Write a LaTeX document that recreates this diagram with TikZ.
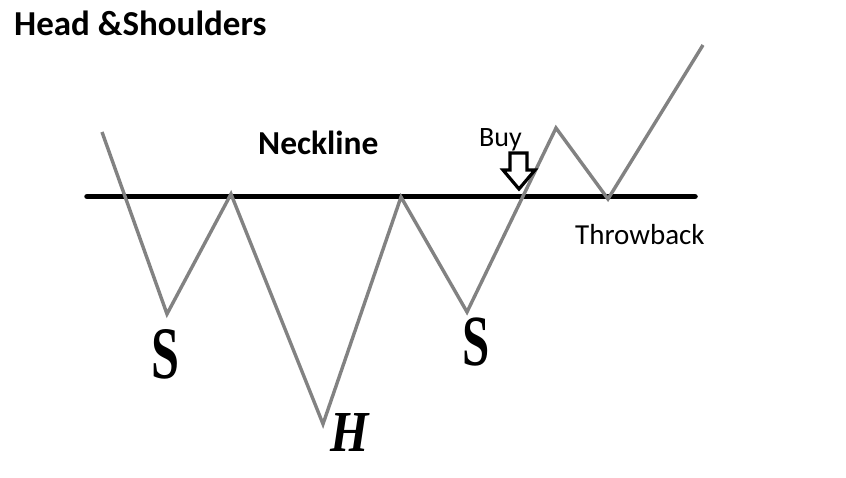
\documentclass[tikz,border=0pt]{standalone}
\usepackage{fontspec}
\setmainfont{Carlito}
\newfontfamily\handfont{Liberation Serif}
\definecolor{zig}{RGB}{130,130,130}
\begin{document}
\begin{tikzpicture}[x=1pt,y=-1pt,
  zigline/.style={draw=zig,line width=3.4pt,line join=miter},
  neck/.style={draw=black,line width=5.5pt,line cap=round},
  lbl/.style={inner sep=0pt,anchor=base west,text=black},
  hand/.style={inner sep=0pt,anchor=center,text=black}]
\useasboundingbox[fill=white] (0,0) rectangle (846,477);
% neckline
\coordinate (nl) at (87,196.5);
\coordinate (nr) at (695,196.5);
\draw[neck] (nl) -- (nr);
% price path
\coordinate (p1) at (102,132);
\coordinate (p2) at (167,314);
\coordinate (p3) at (231,194);
\coordinate (p4) at (323,424);
\coordinate (p5) at (401,197);
\coordinate (p6) at (467,312);
\coordinate (p7) at (556,128);
\coordinate (p8) at (608,199);
\coordinate (p9) at (703,45);
\draw[zigline] (p1) -- (p2) -- (p3) -- (p4) -- (p5) -- (p6) -- (p7) -- (p8) -- (p9);
% buy arrow
\coordinate (a1) at (510,153);
\coordinate (a2) at (527,153);
\coordinate (a3) at (527,170);
\coordinate (a4) at (535,170);
\coordinate (a5) at (519,189);
\coordinate (a6) at (503,170);
\coordinate (a7) at (510,170);
\draw[line width=3.2pt,fill=white,line join=miter] (a1) -- (a2) -- (a3) -- (a4) -- (a5) -- (a6) -- (a7) -- cycle;
% labels
\node[lbl,font=\fontsize{35}{40}\selectfont\bfseries] (title) at (14,35) {Head \&Shoulders};
\node[lbl,font=\fontsize{33.5}{40}\selectfont\bfseries] (neckline) at (258,154) {Neckline};
\node[lbl,font=\fontsize{28}{32}\selectfont] (buy) at (479,146) {Buy};
\node[lbl,font=\fontsize{29}{34}\selectfont] (throwback) at (575,244) {Throwback};
\node[hand] (s1) at (165,354) {\scalebox{0.68}[1]{\handfont\fontsize{74}{74}\selectfont\bfseries S}};
\node[hand] (s2) at (476,342) {\scalebox{0.68}[1]{\handfont\fontsize{72}{72}\selectfont\bfseries S}};
\node[hand] (h) at (350,433) {\scalebox{0.85}[1]{\handfont\fontsize{58}{58}\selectfont\bfseries\itshape H}};
\end{tikzpicture}
\end{document}
